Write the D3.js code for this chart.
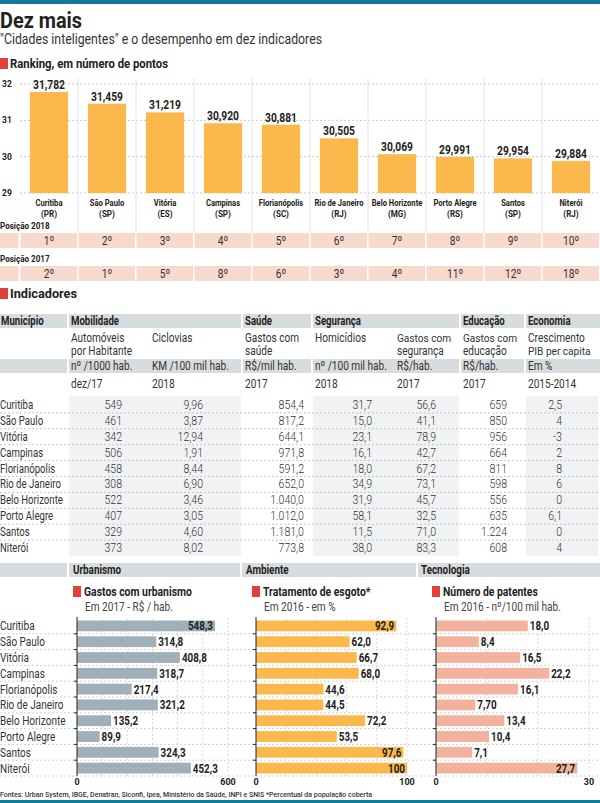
<!DOCTYPE html>
<html>
<head>
<meta charset="utf-8">
<script src="https://cdn.jsdelivr.net/npm/d3@7"></script>
<style>
  body { margin: 0; background: #fff; }
  text { font-family: Roboto, "Noto Sans", sans-serif; fill: #222; }
</style>
</head>
<body>
<svg id="chart" width="600" height="803"></svg>
<script>
// ---- data ----
var cities = ['Curitiba', 'São Paulo', 'Vitória', 'Campinas', 'Florianópolis', 'Rio de Janeiro',
              'Belo Horizonte', 'Porto Alegre', 'Santos', 'Niterói'];
var states = ['PR', 'SP', 'ES', 'SP', 'SC', 'RJ', 'MG', 'RS', 'SP', 'RJ'];
var points = [31.782, 31.459, 31.219, 30.920, 30.881, 30.505, 30.069, 29.991, 29.954, 29.884];
var pointTicks = [29, 30, 31, 32];
var pos2018 = [1, 2, 3, 4, 5, 6, 7, 8, 9, 10];
var pos2017 = [2, 1, 5, 8, 6, 3, 4, 11, 12, 18];

var groups = ['Mobilidade', 'Saúde', 'Segurança', 'Educação', 'Economia'];
var indicatorNames = [['Automóveis', 'por Habitante'], ['Ciclovias'], ['Gastos com', 'saúde'], ['Homicídios'],
                      ['Gastos com', 'segurança'], ['Gastos com', 'educação'], ['Crescimento', 'PIB per capita']];
var units = ['nº /1000 hab.', 'KM /100 mil hab.', 'R$/mil hab.', 'nº /100 mil hab.', 'R$/hab.', 'R$/hab.', 'Em %'];
var years = ['dez/17', '2018', '2017', '2018', '2017', '2017', '2015-2014'];
var groupOf = [0, 0, 1, 2, 2, 3, 4];

var automoveis = [549, 461, 342, 506, 458, 308, 522, 407, 329, 373];
var ciclovias = [9.96, 3.87, 12.94, 1.91, 8.44, 6.90, 3.46, 3.05, 4.60, 8.02];
var saude = [854.4, 817.2, 644.1, 971.8, 591.2, 652.0, 1040.0, 1012.0, 1181.0, 773.8];
var homicidios = [31.7, 15.0, 23.1, 16.1, 18.0, 34.9, 31.9, 58.1, 11.5, 38.0];
var seguranca = [56.6, 41.1, 78.9, 42.7, 67.2, 73.1, 45.7, 32.5, 71.0, 83.3];
var educacao = [659, 850, 956, 664, 811, 598, 556, 635, 1224, 608];
var pib = [2.5, 4, -3, 2, 8, 6, 0, 6.1, 0, 4];

var urbanismo = [548.3, 314.8, 408.8, 318.7, 217.4, 321.2, 135.2, 89.9, 324.3, 452.3];
var esgoto = [92.9, 62.0, 66.7, 68.0, 44.6, 44.5, 72.2, 53.5, 97.6, 100];
var patentes = [18.0, 8.4, 16.5, 22.2, 16.1, 7.70, 13.4, 10.4, 7.1, 27.7];
var patentesText = ['18,0', '8,4', '16,5', '22,2', '16,1', '7,70', '13,4', '10,4', '7,1', '27,7'];

// ---- style ----
var teal = '#0f7d98',
    red = '#e2403a',
    orange = '#fbb84c',
    pink = '#f8d9cd',
    headGray = '#d7dcdf',
    shade = '#f1f2f3',
    urbanGray = '#9fb0b8',
    salmon = '#f3b29d',
    grid = '#c9c9c9';

var loc = d3.formatLocale({decimal: ',', thousands: '.', grouping: [3], currency: ['R$', ''], minus: '-'});

var svg = d3.select('#chart');

// condensed look: squeeze the measured text (optionally capped to a max width)
function squeeze(sel, k, maxW) {
    sel.each(function() {
        var w = this.getComputedTextLength() * k;
        if (maxW && w > maxW) w = maxW;
        d3.select(this).attr('textLength', w).attr('lengthAdjust', 'spacingAndGlyphs');
    });
}
function fitTo(sel, w) {
    sel.attr('textLength', w).attr('lengthAdjust', 'spacingAndGlyphs');
}

function label(x, y, str, size, weight) {
    return svg.append('text')
        .attr('x', x).attr('y', y)
        .style('font-size', size + 'px')
        .style('font-weight', weight || 400)
        .text(str);
}

function sectionHead(x, y, str, size, w) {
    svg.append('rect').attr('x', x).attr('y', y - 10).attr('width', 8).attr('height', 11).attr('fill', red);
    label(x + 10, y, str, size, 700).call(fitTo, w);
}

// ---- header ----
svg.append('rect').attr('x', 0).attr('y', 0).attr('width', 600).attr('height', 4).attr('fill', teal);
label(0, 28, 'Dez mais', 22, 700).call(fitTo, 82);
label(0, 44, '"Cidades inteligentes" e o desempenho em dez indicadores', 14, 400)
    .style('fill', '#333').call(fitTo, 322);
sectionHead(0, 68, 'Ranking, em número de pontos', 12.5, 158);

// ---- ranking bars ----
var x = d3.scaleBand().domain(cities).range([20, 600]);
var y = d3.scaleLinear().domain([29, 32]).range([193, 84]);
var barW = x.bandwidth() * 0.66;

svg.append('g').selectAll('line').data(pointTicks).join('line')
    .attr('x1', 20).attr('x2', 600)
    .attr('y1', d => y(d)).attr('y2', d => y(d))
    .attr('stroke', grid).attr('stroke-dasharray', '2,2');

svg.append('g').selectAll('line').data(cities.slice(0, 9)).join('line')
    .attr('x1', d => x(d) + x.bandwidth()).attr('x2', d => x(d) + x.bandwidth())
    .attr('y1', 78).attr('y2', 233)
    .attr('stroke', '#e3e3e3');

svg.append('g').selectAll('text').data(pointTicks).join('text')
    .attr('x', 2).attr('y', d => y(d)).attr('dy', '0.35em')
    .style('font-size', '8.5px').style('font-weight', 700)
    .text(d => d);

svg.append('g').selectAll('rect').data(points).join('rect')
    .attr('x', (d, i) => x(cities[i]) + (x.bandwidth() - barW) / 2)
    .attr('width', barW)
    .attr('y', d => y(d))
    .attr('height', d => y(29) - y(d))
    .attr('fill', orange);

svg.append('g').selectAll('text').data(points).join('text')
    .attr('x', (d, i) => x(cities[i]) + x.bandwidth() / 2)
    .attr('y', d => y(d) - 3)
    .attr('text-anchor', 'middle')
    .style('font-size', '12.5px').style('font-weight', 700)
    .text(d => loc.format('.3f')(d))
    .call(squeeze, 0.82);

// two-line category labels, one text per line
svg.append('g').selectAll('text').data(cities).join('text')
    .attr('x', d => x(d) + x.bandwidth() / 2).attr('y', 206)
    .attr('text-anchor', 'middle')
    .style('font-size', '9.5px').style('font-weight', 700)
    .text(d => d)
    .call(squeeze, 0.8, x.bandwidth() - 6);
svg.append('g').selectAll('text').data(states).join('text')
    .attr('x', (d, i) => x(cities[i]) + x.bandwidth() / 2).attr('y', 217)
    .attr('text-anchor', 'middle')
    .style('font-size', '9.5px').style('font-weight', 700)
    .text(d => '(' + d + ')')
    .call(squeeze, 0.85);

// ---- positions ----
function posRow(top, title, vals) {
    label(0, top - 4, title, 9.5, 700).call(squeeze, 0.85);
    svg.append('rect').attr('x', 0).attr('y', top).attr('width', 18.5).attr('height', 15).attr('fill', pink);
    svg.append('g').selectAll('rect').data(vals).join('rect')
        .attr('x', (d, i) => x(cities[i]) + 0.5)
        .attr('width', x.bandwidth() - 1.5)
        .attr('y', top).attr('height', 15)
        .attr('fill', pink);
    svg.append('g').selectAll('text').data(vals).join('text')
        .attr('x', (d, i) => x(cities[i]) + x.bandwidth() / 2)
        .attr('y', top + 11.5)
        .attr('text-anchor', 'middle')
        .style('font-size', '12px').style('fill', '#333')
        .text(d => d + 'º')
        .call(squeeze, 0.85);
}
posRow(233, 'Posição 2018', pos2018);
posRow(266, 'Posição 2017', pos2017);

// ---- indicators table ----
sectionHead(0, 298, 'Indicadores', 13, 67);

var series = [automoveis, ciclovias, saude, homicidios, seguranca, educacao, pib];
var formats = [loc.format('d'), loc.format('.2f'), loc.format(',.1f'), loc.format('.1f'),
               loc.format('.1f'), loc.format(',d'), loc.format('~f')];
var colX = [69, 150, 243, 313, 395, 461, 526, 600];
var numRight = [122, 203, 304, 372, 436, 507, 562];
var rowY = d3.scaleBand().domain(cities).range([397, 556]);

// group spans
var spans = groups.map(function(g, gi) {
    var cols = d3.range(7).filter(c => groupOf[c] === gi);
    return {name: g, x0: colX[cols[0]], x1: colX[cols[cols.length - 1] + 1] - 2, shaded: gi % 2 === 0};
});

svg.append('g').selectAll('rect').data(spans.filter(s => s.shaded)).join('rect')
    .attr('x', d => d.x0).attr('width', d => d.x1 - d.x0)
    .attr('y', 396).attr('height', 160)
    .attr('fill', shade);

[[314, 14], [359, 14]].forEach(function(r) {
    svg.append('rect').attr('x', 0).attr('y', r[0]).attr('width', 67).attr('height', r[1]).attr('fill', headGray);
    svg.append('g').selectAll('rect').data(spans).join('rect')
        .attr('x', d => d.x0).attr('width', d => d.x1 - d.x0 + (d.x1 > 590 ? 2 : 0))
        .attr('y', r[0]).attr('height', r[1])
        .attr('fill', headGray);
});

label(1, 325, 'Município', 12, 700).call(squeeze, 0.8);
svg.append('g').selectAll('text').data(spans).join('text')
    .attr('x', d => d.x0 + 2).attr('y', 325)
    .style('font-size', '12px').style('font-weight', 700)
    .text(d => d.name)
    .call(squeeze, 0.8);

// indicator names: one text per line; shrink the font where the column is too narrow
var subLines = [];
indicatorNames.forEach(function(lines, c) {
    lines.forEach(function(s, j) { subLines.push({text: s, col: c, line: j}); });
});
svg.append('g').selectAll('text').data(subLines).join('text')
    .attr('x', d => colX[d.col] + 2)
    .attr('y', d => 342 + d.line * 13)
    .style('font-size', '12px').style('fill', '#333')
    .text(d => d.text)
    .each(function(d) {
        var avail = colX[d.col + 1] - colX[d.col] - 6;
        var natural = this.getComputedTextLength();
        var w = Math.min(natural * 0.84, avail);
        if (natural > avail) d3.select(this).style('font-size', (12 * avail / natural).toFixed(2) + 'px');
        d3.select(this).attr('textLength', w).attr('lengthAdjust', 'spacingAndGlyphs');
    });

svg.append('g').selectAll('text').data(units).join('text')
    .attr('x', (d, i) => colX[i] + 2).attr('y', 370)
    .style('font-size', '12px').style('fill', '#333')
    .text(d => d)
    .call(squeeze, 0.84);

svg.append('g').selectAll('text').data(years).join('text')
    .attr('x', (d, i) => colX[i] + 2).attr('y', 388)
    .style('font-size', '12px').style('fill', '#333')
    .text(d => d)
    .call(squeeze, 0.84);

svg.append('g').selectAll('line').data(cities.slice(1)).join('line')
    .attr('x1', 0).attr('x2', 600)
    .attr('y1', d => rowY(d)).attr('y2', d => rowY(d))
    .attr('stroke', '#c4c4c4').attr('stroke-dasharray', '2,2');

svg.append('g').selectAll('text').data(cities).join('text')
    .attr('x', 0).attr('y', d => rowY(d) + rowY.bandwidth() / 2 + 4)
    .style('font-size', '12px').style('fill', '#333')
    .text(d => d)
    .call(squeeze, 0.8);

series.forEach(function(vals, c) {
    svg.append('g').selectAll('text').data(vals).join('text')
        .attr('x', numRight[c])
        .attr('y', (d, i) => rowY(cities[i]) + rowY.bandwidth() / 2 + 4)
        .attr('text-anchor', 'end')
        .style('font-size', '12px').style('font-weight', 300).style('fill', '#333')
        .text(d => formats[c](d))
        .call(squeeze, 0.88);
});

// ---- bottom bar charts ----
svg.append('rect').attr('x', 0).attr('y', 563).attr('width', 600).attr('height', 14).attr('fill', headGray);
[68, 241, 417].forEach(function(sx) {
    svg.append('rect').attr('x', sx - 1).attr('y', 563).attr('width', 2).attr('height', 14).attr('fill', '#fff');
});

var barRow = d3.scaleBand().domain(cities).range([618, 776]);

svg.append('g').selectAll('line').data(cities.slice(1).concat(['end'])).join('line')
    .attr('x1', 0).attr('x2', 600)
    .attr('y1', d => d === 'end' ? 776 : barRow(d)).attr('y2', d => d === 'end' ? 776 : barRow(d))
    .attr('stroke', '#d0d0d0').attr('stroke-dasharray', '2,2');

svg.append('g').selectAll('text').data(cities).join('text')
    .attr('x', 0).attr('y', d => barRow(d) + barRow.bandwidth() / 2 + 4.5)
    .style('font-size', '12.5px').style('fill', '#333')
    .text(d => d)
    .call(squeeze, 0.8);

var panels = [
    {group: 'Urbanismo', gx: 73, title: 'Gastos com urbanismo', sub: 'Em 2017 - R$ / hab.', vals: urbanismo,
     text: urbanismo.map(v => loc.format('.1f')(v)), max: 600, nticks: 6, range: [77, 228], color: urbanGray},
    {group: 'Ambiente', gx: 246, title: 'Tratamento de esgoto*', sub: 'Em 2016 - em %', vals: esgoto,
     text: esgoto.map(v => v === 100 ? '100' : loc.format('.1f')(v)), max: 100, nticks: 5, range: [256, 407], color: orange},
    {group: 'Tecnologia', gx: 421, title: 'Número de patentes', sub: 'Em 2016 - nº/100 mil hab.', vals: patentes,
     text: patentesText, max: 30, nticks: 3, range: [436, 589], color: salmon}
];

panels.forEach(function(p) {
    var sx = d3.scaleLinear().domain([0, p.max]).range(p.range);
    var g = svg.append('g');

    label(p.gx, 574, p.group, 12, 700).call(squeeze, 0.82);

    g.append('rect').attr('x', sx(0) - 4).attr('y', 586).attr('width', 8).attr('height', 11).attr('fill', red);
    g.append('text').attr('x', sx(0) + 7).attr('y', 596)
        .style('font-size', '13px').style('font-weight', 700)
        .text(p.title).call(squeeze, 0.8);
    g.append('text').attr('x', sx(0) + 8).attr('y', 611)
        .style('font-size', '12px').style('fill', '#444')
        .text(p.sub).call(squeeze, 0.84);

    g.selectAll('line.v').data(sx.ticks(p.nticks).filter(t => t > 0)).join('line')
        .attr('x1', d => sx(d)).attr('x2', d => sx(d))
        .attr('y1', 618).attr('y2', 776)
        .attr('stroke', '#dadada').attr('stroke-dasharray', '2,2');

    g.selectAll('rect.bar').data(p.vals).join('rect')
        .attr('x', sx(0))
        .attr('y', (d, i) => barRow(cities[i]) + 2.5)
        .attr('width', d => sx(d) - sx(0))
        .attr('height', barRow.bandwidth() - 5)
        .attr('fill', p.color);

    g.selectAll('text.val').data(p.vals).join('text')
        .attr('x', d => d / p.max > 0.85 ? sx(d) - 2 : sx(d) + 2)
        .attr('text-anchor', d => d / p.max > 0.85 ? 'end' : 'start')
        .attr('y', (d, i) => barRow(cities[i]) + barRow.bandwidth() / 2 + 4.5)
        .style('font-size', '12px').style('font-weight', 700)
        .text((d, i) => p.text[i])
        .call(squeeze, 0.82);

    g.append('line').attr('x1', sx(0)).attr('x2', sx(0)).attr('y1', 617).attr('y2', 776)
        .attr('stroke', '#222').attr('stroke-width', 1);
    g.selectAll('line.tk').data(cities.slice(1)).join('line')
        .attr('x1', sx(0) - 3).attr('x2', sx(0))
        .attr('y1', d => barRow(d)).attr('y2', d => barRow(d))
        .attr('stroke', '#222');

    g.selectAll('text.ax').data([0, p.max]).join('text')
        .attr('x', d => sx(d)).attr('y', 785)
        .attr('text-anchor', 'middle')
        .style('font-size', '9px').style('font-weight', 700)
        .text(d => d);
});

// ---- footer ----
label(0, 797, 'Fontes: Urban System, IBGE, Denatran, Siconfi, Ipea, Ministério da Saúde, INPI e SNIS *Percentual da população coberta', 8, 500)
    .style('fill', '#333').call(fitTo, 372);
svg.append('rect').attr('x', 0).attr('y', 800).attr('width', 600).attr('height', 3).attr('fill', teal);
</script>
</body>
</html>
